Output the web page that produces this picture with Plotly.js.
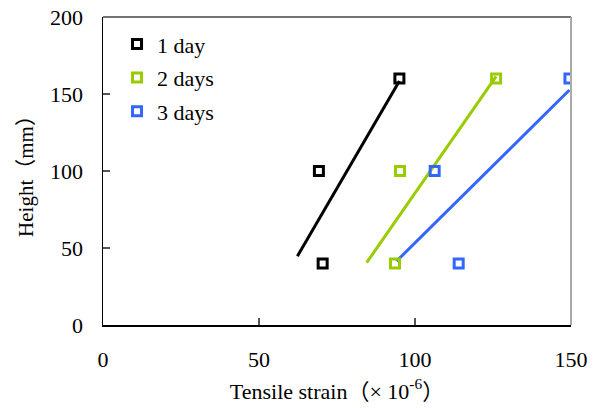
<!DOCTYPE html>
<html>
<head>
<meta charset="utf-8">
<script src="https://cdn.plot.ly/plotly-3.0.1.min.js"></script>
<style>
  html, body { margin: 0; padding: 0; background: #fff; }
  #chart { width: 598px; height: 408px; }
</style>
</head>
<body>
<div id="chart"></div>
<script>
// Measured heights (mm) and tensile strain (×10^-6) per curing age
const seriesNames = ['1 day', '2 days', '3 days'];
const heights = [160, 100, 40];
const strainDay1 = [95, 69.2, 70.4];
const strainDay2 = [126, 95.2, 93.6];
const strainDay3 = [149.5, 106.3, 114];
const seriesColors = ['#000000', '#99cc00', '#3366ff'];
// Linear trend lines are extended backward to these strains
const trendStart = [62.3, 84.5, 94.1];

const strains = [strainDay1, strainDay2, strainDay3];

// Least-squares fit of height on strain
function linearFit(xs, ys) {
  const n = xs.length;
  const mx = xs.reduce((a, b) => a + b, 0) / n;
  const my = ys.reduce((a, b) => a + b, 0) / n;
  let sxy = 0, sxx = 0;
  for (let i = 0; i < n; i++) {
    sxy += (xs[i] - mx) * (ys[i] - my);
    sxx += (xs[i] - mx) * (xs[i] - mx);
  }
  const slope = sxy / sxx;
  return { slope, intercept: my - slope * mx };
}

const serif = "'Liberation Serif', 'Times New Roman', 'Noto Sans CJK SC', serif";
const traces = [];

strains.forEach((xs, i) => {
  const fit = linearFit(xs, heights);
  const x0 = trendStart[i];
  const x1 = Math.max(...xs);
  traces.push({
    x: [x0, x1],
    y: [fit.intercept + fit.slope * x0, fit.intercept + fit.slope * x1],
    mode: 'lines',
    line: { color: seriesColors[i], width: 3 },
    showlegend: false,
    hoverinfo: 'skip'
  });
});

strains.forEach((xs, i) => {
  traces.push({
    x: xs,
    y: heights,
    name: seriesNames[i],
    legendgroup: 'g' + i,
    mode: 'markers',
    marker: {
      symbol: 'square-open',
      size: 9,
      color: seriesColors[i],
      line: { color: seriesColors[i], width: 3 }
    }
  });
});

const layout = {
  width: 598,
  height: 408,
  margin: { l: 103, r: 27, t: 17, b: 83 },
  paper_bgcolor: '#ffffff',
  plot_bgcolor: '#ffffff',
  font: { family: serif, size: 22, color: '#000' },
  showlegend: true,
  legend: {
    x: 0.03, y: 0.98, xanchor: 'left', yanchor: 'top',
    bgcolor: 'rgba(0,0,0,0)',
    font: { family: serif, size: 22, color: '#000' },
    itemwidth: 30,
    tracegroupgap: 2
  },
  xaxis: {
    range: [0, 150],
    tickvals: [0, 50, 100, 150],
    ticks: 'inside', ticklen: 7, tickwidth: 1.5, tickcolor: '#555',
    showline: true, linecolor: '#000', linewidth: 1.5,
    showgrid: false, zeroline: false,
    ticklabelstandoff: 14,
    tickfont: { family: serif, size: 22 },
    title: {
      text: 'Tensile strain（× 10<sup>-6</sup>）',
      font: { family: serif, size: 22 },
      standoff: 12
    }
  },
  yaxis: {
    range: [0, 200],
    tickvals: [0, 50, 100, 150, 200],
    ticks: 'inside', ticklen: 7, tickwidth: 1.5, tickcolor: '#555',
    showline: true, linecolor: '#000', linewidth: 1.5,
    showgrid: false, zeroline: false,
    ticklabelstandoff: 14,
    tickfont: { family: serif, size: 22 },
    title: {
      text: 'Height（mm）',
      font: { family: serif, size: 21 },
      standoff: 10
    }
  },
  shapes: [
    { type: 'line', xref: 'paper', yref: 'paper', x0: 0, x1: 1, y0: 1, y1: 1,
      line: { color: '#444', width: 1.5 } },
    { type: 'line', xref: 'paper', yref: 'paper', x0: 1, x1: 1, y0: 0, y1: 1,
      line: { color: '#aaaaaa', width: 2 } }
  ]
};

Plotly.newPlot('chart', traces, layout, { displayModeBar: false, staticPlot: true });
</script>
</body>
</html>
